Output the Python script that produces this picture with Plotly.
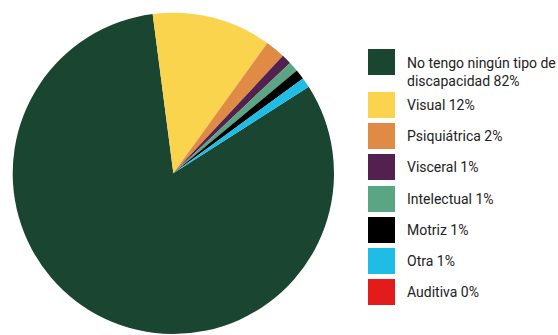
import plotly.graph_objects as go

labels = ["No tengo ningún tipo de<br>discapacidad", "Visual", "Psiquiátrica", "Visceral",
          "Intelectual", "Motriz", "Otra", "Auditiva"]
values = [82, 12, 2, 1, 1, 1, 1, 0]
pct_labels = ["82%", "12%", "2%", "1%", "1%", "1%", "1%", "0%"]
colors = ["#1a4530", "#fbd44e", "#e08b45", "#52214f", "#5aa584", "#000000", "#1fbde6", "#e31b1b"]

W, H = 558, 335
fig = go.Figure()
fig.add_trace(go.Pie(
    labels=labels, values=values, sort=False, direction="clockwise",
    rotation=57.4, marker=dict(colors=colors, line=dict(width=0)),
    textinfo="none", hoverinfo="label+percent", showlegend=False,
    domain=dict(x=[12.7 / W, 334 / W], y=[1 / H, 322.3 / H]),
))

# custom legend (large square swatches)
sw_x0, sw_x1 = 368, 395
sw_h = 26
tops = [49, 92, 123, 154, 186, 217, 248, 279]
shapes = []
annotations = []
for i, (lab, pct, col) in enumerate(zip(labels, pct_labels, colors)):
    t = tops[i]
    shapes.append(dict(type="rect", xref="paper", yref="paper",
                       x0=sw_x0 / W, x1=sw_x1 / W,
                       y0=1 - (t + sw_h) / H, y1=1 - t / H,
                       fillcolor=col, line=dict(width=0)))
    if i == 0:
        yc = 72.5
    else:
        yc = t + sw_h / 2
    annotations.append(dict(xref="paper", yref="paper", x=405 / W, y=1 - yc / H,
                            xanchor="left", yanchor="middle", showarrow=False,
                            text=f"{lab} {pct}", align="left",
                            font=dict(family="Roboto, sans-serif",
                                      size=14, color="#222222")))

fig.update_layout(width=W, height=H, margin=dict(l=0, r=0, t=0, b=0),
                  paper_bgcolor="white", plot_bgcolor="white",
                  shapes=shapes, annotations=annotations)
fig.write_html("out.html")
